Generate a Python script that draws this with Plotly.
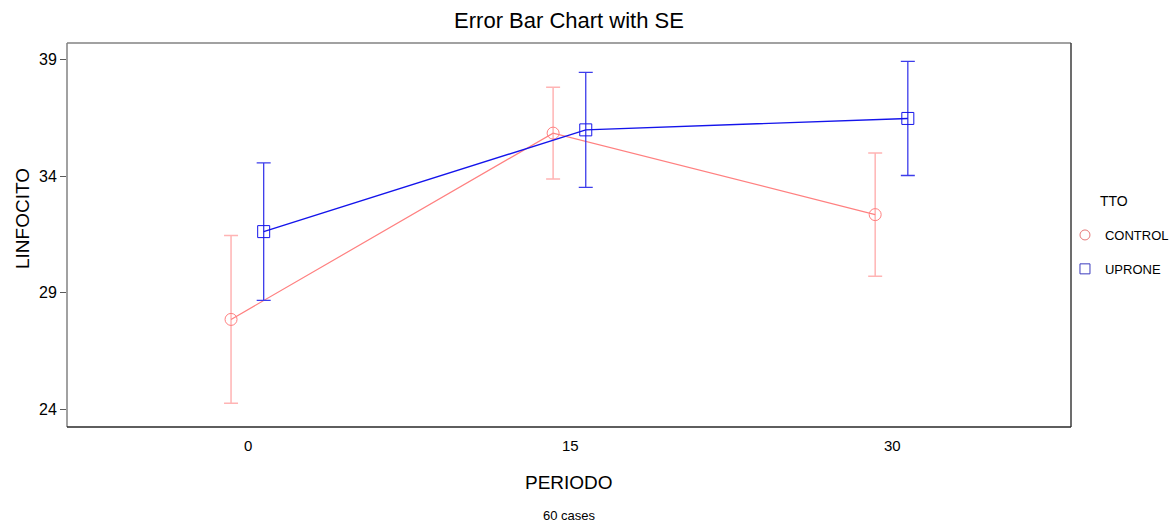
import plotly.graph_objects as go

periods = [0, 15, 30]
groups = ["CONTROL", "UPRONE"]
control_mean = [27.85, 35.85, 32.35]
control_se = [3.6, 1.97, 2.65]
uprone_mean = [31.62, 35.99, 36.48]
uprone_se = [2.95, 2.47, 2.45]
y_ticks = [24, 29, 34, 39]
x_ticks = [0, 15, 30]

FONT = "Liberation Sans"
pink_line = "rgb(255,128,128)"
pink_err = "rgb(255,180,180)"
blue_line = "rgb(20,20,235)"
blue_err = "rgb(60,60,235)"

dodge = {"CONTROL": -0.8, "UPRONE": 0.72}

fig = go.Figure()

fig.add_trace(go.Scatter(
    x=[p + dodge["CONTROL"] for p in periods], y=control_mean,
    mode="lines+markers",
    line=dict(color=pink_line, width=1.2),
    marker=dict(symbol="circle-open", size=12, color=pink_line, line=dict(width=1)),
    error_y=dict(type="data", array=control_se, color=pink_err, thickness=1.5, width=7),
    showlegend=False,
))
fig.add_trace(go.Scatter(
    x=[p + dodge["UPRONE"] for p in periods], y=uprone_mean,
    mode="lines+markers",
    line=dict(color=blue_line, width=1.4),
    marker=dict(symbol="square-open", size=12, color=blue_line, line=dict(width=1)),
    error_y=dict(type="data", array=uprone_se, color=blue_err, thickness=1.3, width=7),
    showlegend=False,
))

# legend-only entries (markers only)
fig.add_trace(go.Scatter(
    x=[None], y=[None], mode="markers", name=groups[0], legendgroup="a",
    marker=dict(symbol="circle-open", size=10, color="rgb(230,120,120)", line=dict(width=1)),
))
fig.add_trace(go.Scatter(
    x=[None], y=[None], mode="markers", name=groups[1], legendgroup="b",
    marker=dict(symbol="square-open", size=10, color="rgb(60,60,190)", line=dict(width=1)),
))

# plot frame
x0, x1 = -8.44, 38.32
y0, y1 = 23.23, 39.72
fig.add_shape(type="line", xref="paper", yref="paper", x0=0, x1=0, y0=0, y1=1,
              line=dict(color="rgb(130,130,130)", width=1.5))
fig.add_shape(type="line", xref="paper", yref="paper", x0=0, x1=1, y0=1, y1=1,
              line=dict(color="rgb(130,130,130)", width=1.5))
fig.add_shape(type="line", xref="paper", yref="paper", x0=1, x1=1, y0=0, y1=1,
              line=dict(color="rgb(60,60,60)", width=1.5))
fig.add_shape(type="line", xref="paper", yref="paper", x0=0, x1=1, y0=0, y1=0,
              line=dict(color="rgb(40,40,40)", width=1.5))

PH = 384.0
PW = 1004.0

fig.update_layout(
    width=1174, height=524,
    margin=dict(l=67, r=103, t=43, b=97, autoexpand=False),
    paper_bgcolor="white", plot_bgcolor="white",
    font=dict(family=FONT, color="black", size=14),
    title=dict(text="Error Bar Chart with SE", x=(67 + 1071) / 2 / 1174, xanchor="center",
               y=1 - 20 / 524, yanchor="middle", font=dict(size=22, family=FONT)),
    xaxis=dict(range=[x0, x1], tickvals=x_ticks, ticktext=[str(t) for t in x_ticks],
               showgrid=False, zeroline=False, showline=False, ticks="",
               tickfont=dict(size=15), ticklabelstandoff=8, automargin=False),
    yaxis=dict(range=[y0, y1], tickvals=y_ticks, ticktext=[str(t) for t in y_ticks],
               showgrid=False, zeroline=False, showline=False, ticks="outside",
               ticklen=6, tickcolor="rgb(90,90,90)", tickfont=dict(size=16),
               automargin=False),
    showlegend=True,
    legend=dict(x=0.994, xanchor="left", y=(427 - 220) / PH, yanchor="top",
                font=dict(size=13, family=FONT),
                tracegroupgap=14, traceorder="grouped",
                bgcolor="rgba(0,0,0,0)"),
    annotations=[
        dict(text="TTO", xref="paper", yref="paper", x=(1098 - 67) / PW,
             y=(427 - 201) / PH, xanchor="left", yanchor="middle", showarrow=False,
             font=dict(size=14)),
        dict(text="PERIODO", xref="paper", yref="paper", x=0.5, y=-55 / PH,
             xanchor="center", yanchor="middle", showarrow=False, font=dict(size=19)),
        dict(text="60 cases", xref="paper", yref="paper", x=0.5, y=-88 / PH,
             xanchor="center", yanchor="middle", showarrow=False, font=dict(size=13)),
        dict(text="LINFOCITO", xref="paper", yref="paper", x=-45 / PW, y=(427 - 219) / PH,
             xanchor="center", yanchor="middle", showarrow=False, textangle=-90,
             font=dict(size=19)),
    ],
)

fig.write_html(
    "out.html",
    config={"displayModeBar": False},
    post_script="document.body.style.margin='0';document.body.style.overflow='hidden';",
)
